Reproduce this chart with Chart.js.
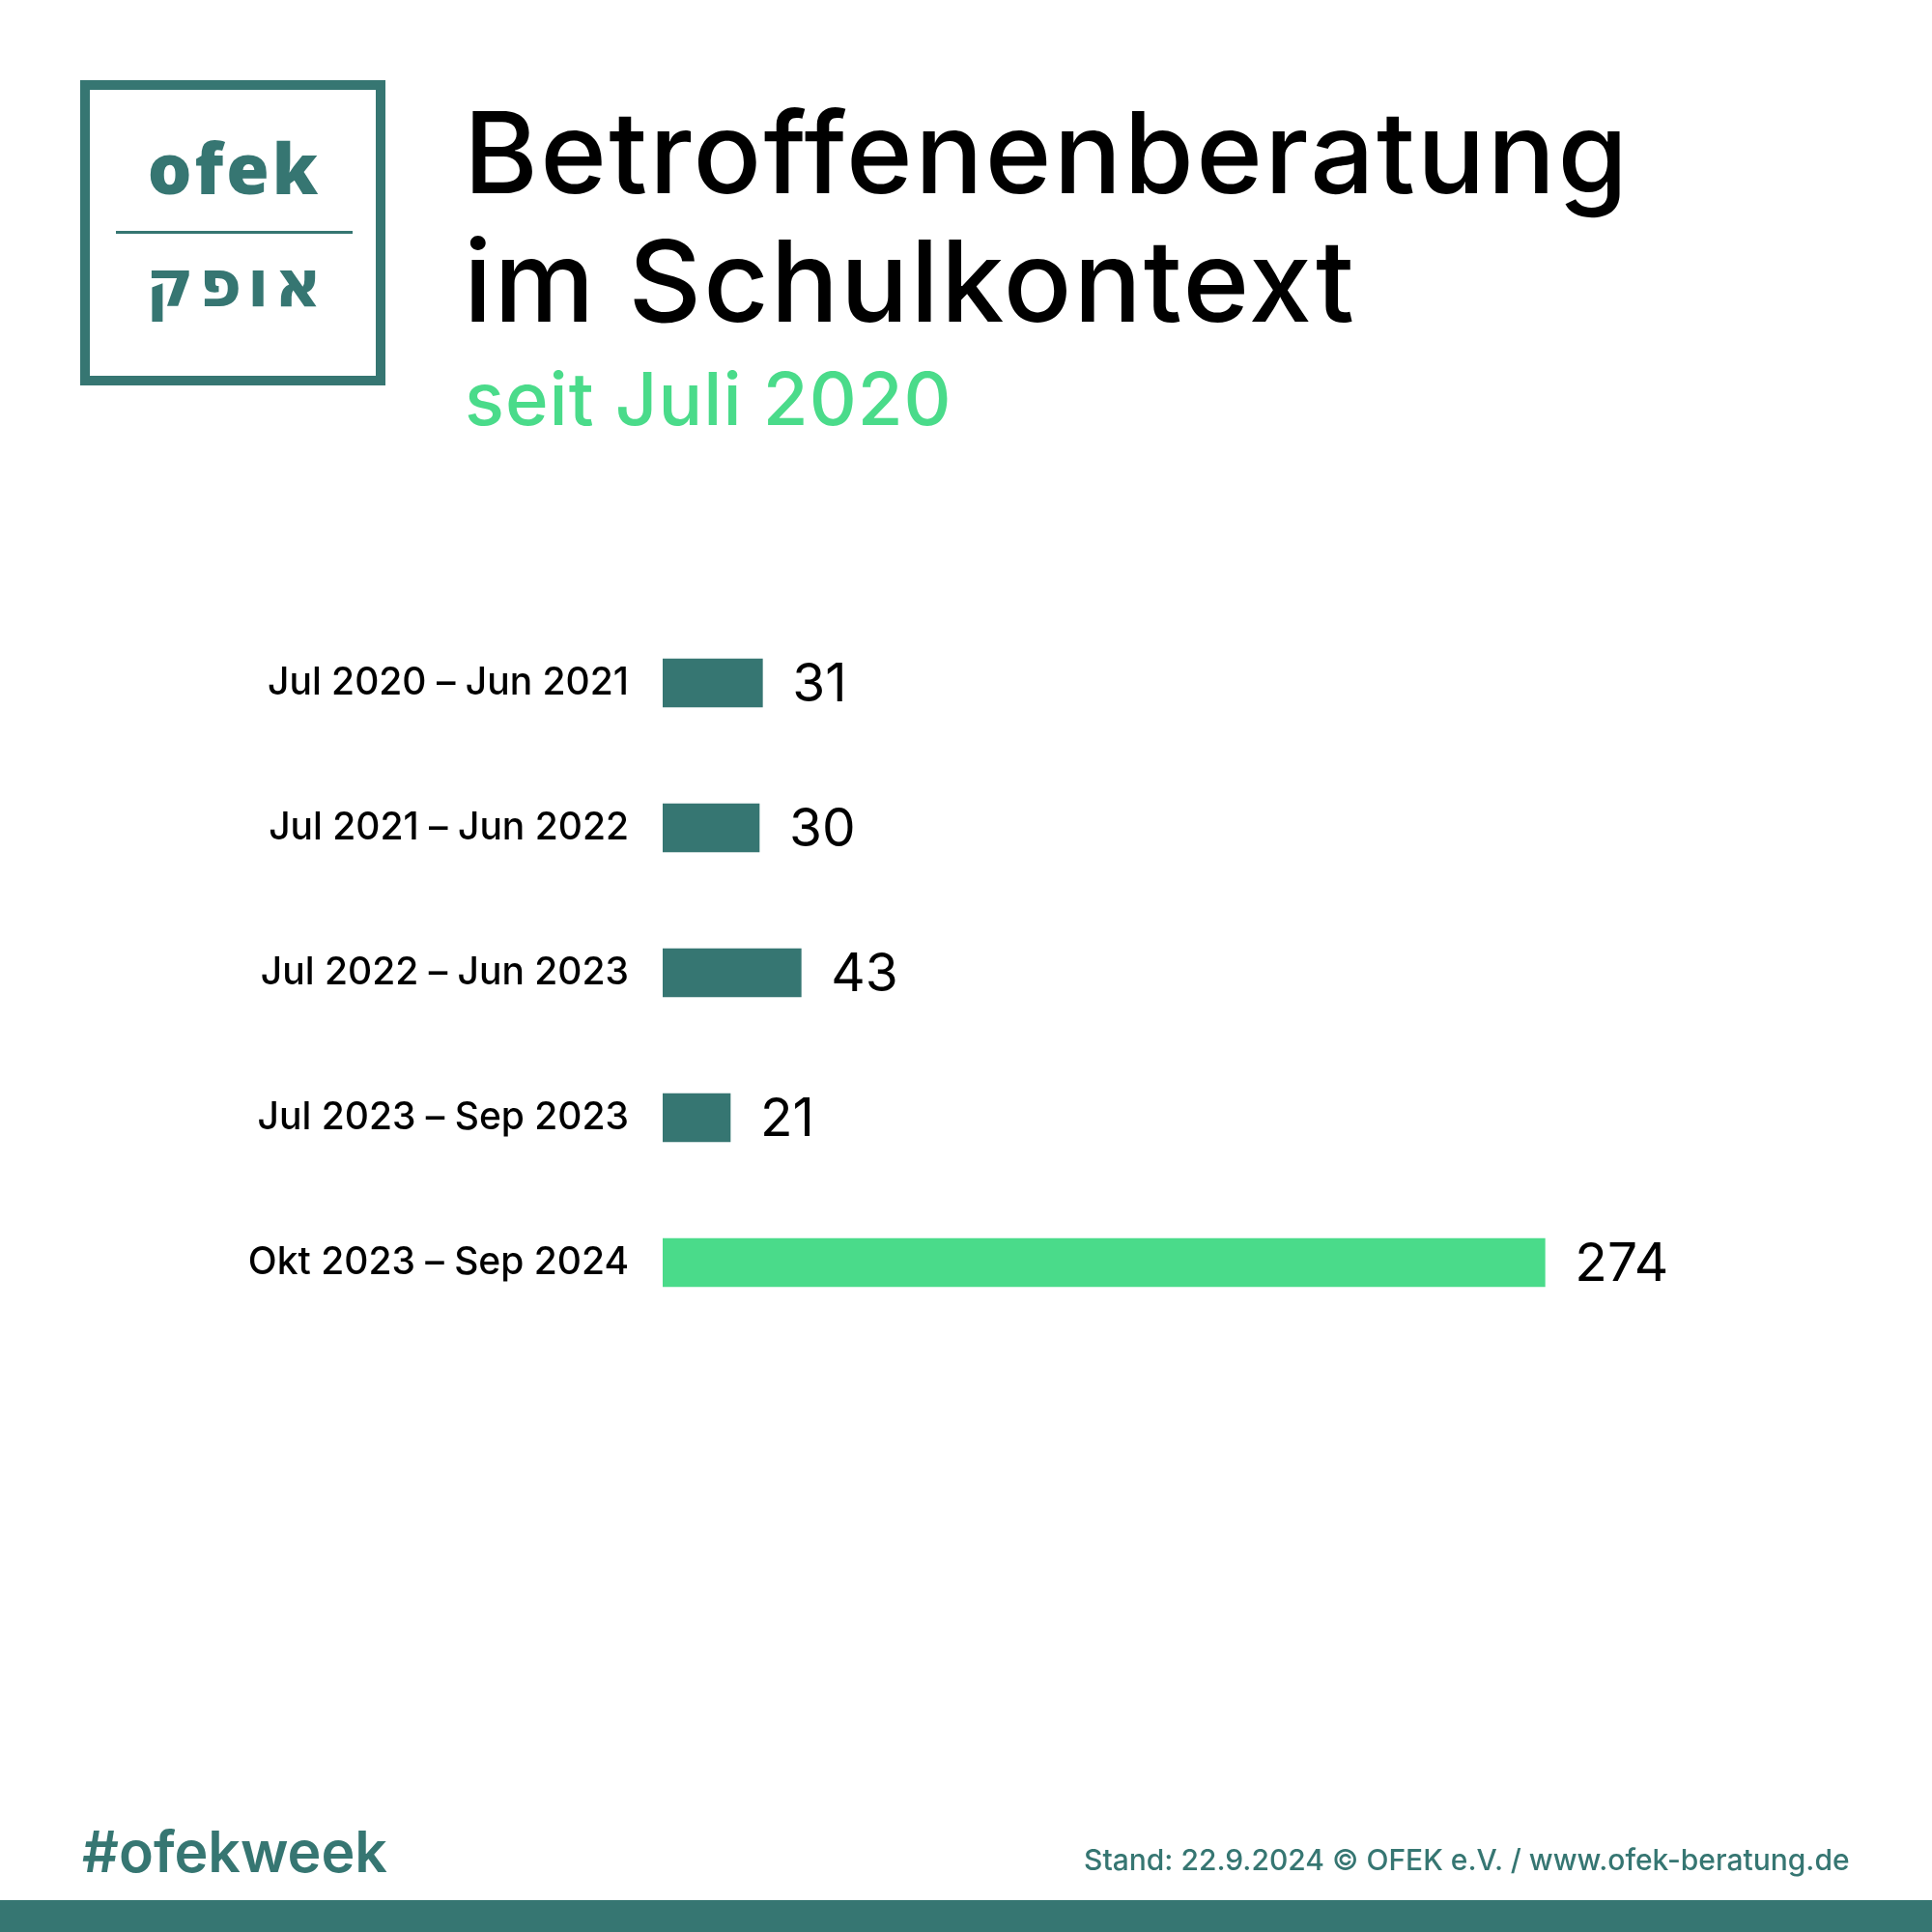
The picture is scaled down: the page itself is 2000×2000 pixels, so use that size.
<!DOCTYPE html>
<html>
<head>
<meta charset="utf-8">
<script src="https://cdn.jsdelivr.net/npm/chart.js@4.4.0/dist/chart.umd.min.js"></script>
<style>
  body { margin: 0; background: #fff; }
  #page { position: relative; width: 2000px; height: 2000px; overflow: hidden; font-family: Inter, "Noto Sans", sans-serif; }
  #chart { position: absolute; left: 0; top: 0; }
  .abs { position: absolute; white-space: nowrap; line-height: 1; }
  #logo { position: absolute; left: 83px; top: 83px; width: 296px; height: 296px; border: 10px solid #367672; }
  #band { position: absolute; left: 0; top: 1967px; width: 2000px; height: 33px; background: #367672; }
</style>
</head>
<body>
<div id="page">
  <canvas id="chart" width="2000" height="2000"></canvas>

  <div id="logo"></div>
  <div class="abs" id="logoLat" style="left:85px; width:315px; text-align:center; top:137px; font-family:'Open Sans','DejaVu Sans',sans-serif; font-weight:800; font-size:72px; letter-spacing:3px; color:#367672;">ofek</div>
  <div class="abs" style="left:120px; top:239px; width:245px; height:3px; background:#367672;"></div>
  <div class="abs" id="logoHeb" style="left:87px; width:315px; text-align:center; top:260px; font-family:'DejaVu Sans','Open Sans',sans-serif; font-weight:700; font-size:68px; letter-spacing:5px; color:#367672;" dir="rtl">אופק</div>

  <div class="abs" id="t1" style="left:480px; top:99px; font-size:117px; font-weight:500; color:#000; letter-spacing:2.3px;">Betroffenenberatung</div>
  <div class="abs" id="t2" style="left:480px; top:232px; font-size:117px; font-weight:500; color:#000; letter-spacing:2px;">im Schulkontext</div>
  <div class="abs" id="sub" style="left:481px; top:374px; font-size:76px; font-weight:500; color:#4adb8a; letter-spacing:1px;">seit Juli 2020</div>

  <div class="abs" style="left:85px; top:1887px; font-size:59px; font-weight:600; color:#367672;">#ofekweek</div>
  <div class="abs" style="left:1122px; top:1910px; font-size:30px; font-weight:500; color:#367672;">Stand: 22.9.2024 © OFEK e.V. / www.ofek-beratung.de</div>
  <div id="band"></div>
</div>

<script>
// Zeiträume und Anzahl Beratungen
var zeitraum = ['Jul 2020 – Jun 2021', 'Jul 2021 – Jun 2022', 'Jul 2022 – Jun 2023', 'Jul 2023 – Sep 2023', 'Okt 2023 – Sep 2024'];
var anzahl = [31, 30, 43, 21, 274];
var warna = ['#367672', '#367672', '#367672', '#367672', '#4adb8a'];

// zahlen rechts neben den balken
const wertLabel = {
    id: 'wertLabel',
    afterDatasetsDraw(chart) {
        const ctx = chart.ctx;
        const meta = chart.getDatasetMeta(0);
        ctx.save();
        ctx.font = '400 55px Inter, "Noto Sans", sans-serif';
        ctx.fillStyle = '#000';
        ctx.textAlign = 'left';
        ctx.textBaseline = 'middle';
        meta.data.forEach((bar, i) => {
            ctx.fillText(anzahl[i], bar.x + 31, bar.y + 2);
        });
        ctx.restore();
    }
};

const config = {
    type: 'bar',
    data: {
        labels: zeitraum,
        datasets: [{
            data: anzahl,
            backgroundColor: warna,
            borderWidth: 0,
            barThickness: 50
        }]
    },
    options: {
        indexAxis: 'y',
        responsive: false,
        animation: false,
        devicePixelRatio: 1,
        layout: { padding: { left: 0, right: 314, top: 632, bottom: 618 } },
        plugins: { legend: { display: false }, tooltip: { enabled: false } },
        scales: {
            x: { display: false, min: 0, max: 300 },
            y: {
                grid: { display: false, drawTicks: false },
                border: { display: false },
                ticks: {
                    padding: 35,
                    color: '#000',
                    font: { family: 'Inter, "Noto Sans", sans-serif', size: 39, weight: '500' }
                },
                afterFit: function(scale) { scale.width = 686; }
            }
        }
    },
    plugins: [wertLabel]
};

const myChart = new Chart(document.getElementById('chart'), config);
</script>
</body>
</html>
